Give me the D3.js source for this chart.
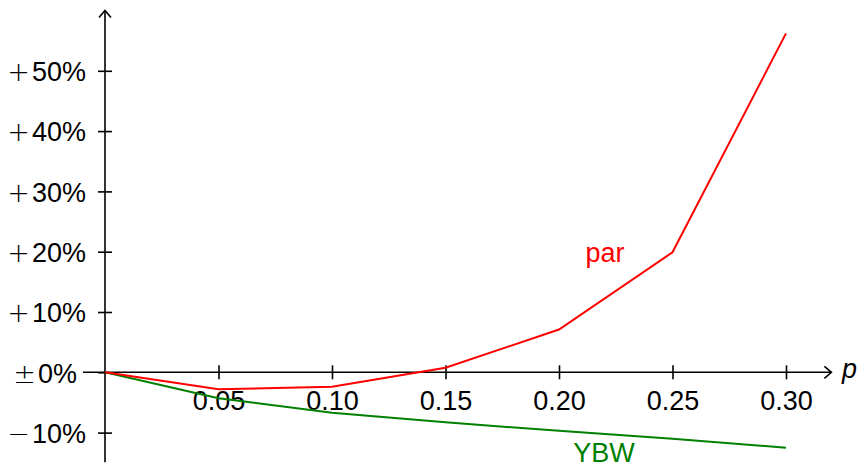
<!DOCTYPE html>
<html><head><meta charset="utf-8">
<script src="https://cdn.jsdelivr.net/npm/d3@7"></script>
<style>body{margin:0;background:#fff}svg{display:block}text{font-family:"Liberation Sans",Arial,sans-serif}</style>
</head><body><svg id="c" width="860" height="468"></svg>
<script>
const pValues = [0, 0.05, 0.10, 0.15, 0.20, 0.25, 0.30];
const parValues = [0, -2.8, -2.4, 0.75, 7.1, 19.9, 56.2];
const ybwValues = [0, -4.3, -6.7, -8.3, -9.7, -11.0, -12.5];
const xTicks = [0.05, 0.10, 0.15, 0.20, 0.25, 0.30];
const xTickLabels = ["0.05", "0.10", "0.15", "0.20", "0.25", "0.30"];
const yTicks = [-10, 0, 10, 20, 30, 40, 50];
const yTickSigns = ["\u2212", "\u00b1", "+", "+", "+", "+", "+"];
const yTickLabels = ["10%", "0%", "10%", "20%", "30%", "40%", "50%"];

const svg = d3.select("#c");
const x = d3.scaleLinear().domain([0, 0.30]).range([105, 786]);
const y = d3.scaleLinear().domain([0, 50]).range([372.3, 70.8]);

// x axis
const xAxis = d3.axisBottom(x).tickValues(xTicks).tickFormat((d, i) => xTickLabels[i]).tickSize(7);
const gx = svg.append("g").attr("transform", `translate(0,${y(0)})`).call(xAxis);
gx.select(".domain").remove();
gx.selectAll(".tick line").attr("y1", -7).attr("y2", 7).attr("stroke", "#000").attr("stroke-width", 1.6);
gx.selectAll(".tick text").attr("y", 38).attr("dy", null).attr("font-size", 27).attr("fill", "#000").attr("font-family", '"Liberation Sans",Arial,sans-serif');

// y axis
const yAxis = d3.axisLeft(y).tickValues(yTicks).tickFormat("").tickSize(7);
const gy = svg.append("g").attr("transform", `translate(${x(0)},0)`).call(yAxis);
gy.select(".domain").remove();
gy.selectAll(".tick line").attr("x1", -7).attr("x2", 7).attr("stroke", "#000").attr("stroke-width", 1.6);
gy.selectAll(".tick text").each(function(d) {
  const i = yTicks.indexOf(d);
  const t = d3.select(this).text(null)
    .attr("x", d === 0 ? -28 : -19).attr("dy", "0.36em").attr("font-size", 27).attr("fill", "#000")
    .attr("font-family", '"Liberation Sans",Arial,sans-serif');
  t.append("tspan").attr("font-family", '"DejaVu Sans"').attr("font-weight", 200).attr("dx", 0).text(yTickSigns[i]);
  t.append("tspan").attr("dx", 2).text(yTickLabels[i]);
});

// axis lines with arrows
const xl = x(-0.0097), xr = x(0.32);
svg.append("line").attr("x1", xl).attr("x2", xr).attr("y1", y(0)).attr("y2", y(0)).attr("stroke", "#000").attr("stroke-width", 1.6);
svg.append("path").attr("d", `M${xr-7},${y(0)-6} L${xr},${y(0)} L${xr-7},${y(0)+6}`).attr("fill", "none").attr("stroke", "#000").attr("stroke-width", 1.6);
const yb = y(-14.9), yt = y(60);
svg.append("line").attr("x1", x(0)).attr("x2", x(0)).attr("y1", yb).attr("y2", yt).attr("stroke", "#000").attr("stroke-width", 1.6);
svg.append("path").attr("d", `M${x(0)-6},${yt+7} L${x(0)},${yt} L${x(0)+6},${yt+7}`).attr("fill", "none").attr("stroke", "#000").attr("stroke-width", 1.6);

svg.append("text").attr("x", 842).attr("y", 378).attr("font-size", 27).attr("font-style", "italic").text("p");

// lines
const line = d3.line().x((d, i) => x(pValues[i])).y(d => y(d));
svg.append("path").datum(ybwValues).attr("d", line).attr("fill", "none").attr("stroke", "#008000").attr("stroke-width", 2);
svg.append("path").datum(parValues).attr("d", line).attr("fill", "none").attr("stroke", "#ff0000").attr("stroke-width", 2);

svg.append("text").attr("x", 605).attr("y", 262).attr("text-anchor", "middle").attr("font-size", 27).attr("fill", "#ff0000").text("par");
svg.append("text").attr("x", 604).attr("y", 462).attr("text-anchor", "middle").attr("font-size", 27).attr("fill", "#008000").text("YBW");
</script></body></html>
